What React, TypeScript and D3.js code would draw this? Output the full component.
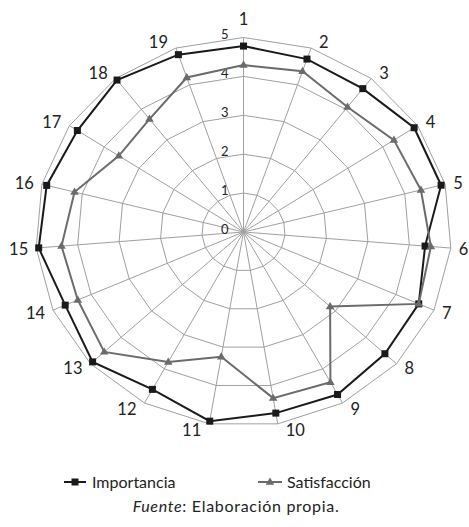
import React from "react";
import * as d3 from "d3";

const categories = ["1","2","3","4","5","6","7","8","9","10","11","12","13","14","15","16","17","18","19"];
const importancia = [4.78, 4.7, 4.67, 4.9, 4.9, 4.38, 4.6, 4.62, 4.75, 4.72, 4.93, 4.6, 4.93, 4.68, 4.94, 4.88, 4.77, 4.95, 4.82];
const satisfaccion = [4.29, 4.37, 4.07, 4.32, 4.4, 4.52, 4.6, 2.83, 4.39, 4.33, 3.25, 3.8, 4.55, 4.35, 4.39, 4.19, 3.58, 3.68, 4.2];
const ticks = [0, 1, 2, 3, 4, 5];
const seriesNames = ["Importancia", "Satisfacción"];

const W = 469, H = 527;
const cx = 243.5, cy = 232;
const RX = 208, RY = 194.5;
const FONT = "Lato, 'Open Sans', sans-serif";

export default function App() {
  const n = categories.length;
  const angle = d3.scaleLinear().domain([0, n]).range([0, 2 * Math.PI]);
  const r = d3.scaleLinear().domain([0, 5]).range([0, 1]);
  const pt = (i: number, v: number): [number, number] => {
    const a = angle(i);
    return [cx + r(v) * RX * Math.sin(a), cy - r(v) * RY * Math.cos(a)];
  };
  const closed = d3.line<[number, number]>().curve(d3.curveLinearClosed);

  const ringPaths = ticks.filter((t) => t > 0).map((t) =>
    closed(categories.map((_, i) => pt(i, t)))
  );

  const impPts = importancia.map((v, i) => pt(i, v));
  const satPts = satisfaccion.map((v, i) => pt(i, v));

  const tri = (x: number, y: number, s: number) =>
    `M${x},${y - s}L${x + s * 0.95},${y + s * 0.6}L${x - s * 0.95},${y + s * 0.6}Z`;

  const gridColor = "#a0a0a0";
  const impColor = "#1a1a1a";
  const satColor = "#6b6b6b";

  return (
    <svg width={W} height={H} style={{ position: "absolute", left: 0, top: 0, background: "#fff" }}>
      <g>
        {ringPaths.map((d, k) => (
          <path key={k} d={d || ""} fill="none" stroke={gridColor} strokeWidth={1} />
        ))}
        {categories.map((_, i) => {
          const [x, y] = pt(i, 5);
          return <line key={i} x1={cx} y1={cy} x2={x} y2={y} stroke={gridColor} strokeWidth={1} />;
        })}
      </g>
      <g fontFamily={FONT} fontSize={13} fill="#222">
        {ticks.map((t) => {
          const [, y] = pt(0, t);
          return (
            <text key={t} x={cx - 15} y={y - 3} dy="0.36em" textAnchor="end">
              {t}
            </text>
          );
        })}
      </g>
      <path d={closed(impPts) || ""} fill="none" stroke={impColor} strokeWidth={2} />
      {impPts.map(([x, y], i) => (
        <rect key={i} x={x - 3.5} y={y - 3.5} width={7} height={7} fill={impColor} />
      ))}
      <path d={closed(satPts) || ""} fill="none" stroke={satColor} strokeWidth={2} />
      {satPts.map(([x, y], i) => (
        <path key={i} d={tri(x, y, 4.5)} fill={satColor} />
      ))}
      <g fontFamily={FONT} fontSize={16.5} fill="#222">
        {categories.map((c, i) => {
          const a = angle(i);
          const s = Math.sin(a), co = Math.cos(a);
          const [vx, vy] = pt(i, 5);
          if (Math.abs(s) < 0.05) {
            return (
              <text key={c} x={vx} y={vy - 18} dy="0.36em" textAnchor="middle">{c}</text>
            );
          }
          const sign = s > 0 ? 1 : -1;
          return (
            <text key={c} x={vx + sign * 8} y={vy - co * 6.5} dy="0.36em" textAnchor={s > 0 ? "start" : "end"}>
              {c}
            </text>
          );
        })}
      </g>
      <g fontFamily={FONT} fontSize={16} fill="#222">
        <line x1={64} x2={86} y1={482} y2={482} stroke={impColor} strokeWidth={2} />
        <rect x={71.5} y={478.5} width={7} height={7} fill={impColor} />
        <text x={92} y={488}>{seriesNames[0]}</text>
        <line x1={258} x2={282} y1={482} y2={482} stroke={satColor} strokeWidth={2} />
        <path d={tri(270, 482, 4.5)} fill={satColor} />
        <text x={287} y={488}>{seriesNames[1]}</text>
        <text x={236} y={512} textAnchor="middle" letterSpacing={0.7}>
          <tspan fontStyle="italic">Fuente</tspan>: Elaboración propia.
        </text>
      </g>
    </svg>
  );
}
